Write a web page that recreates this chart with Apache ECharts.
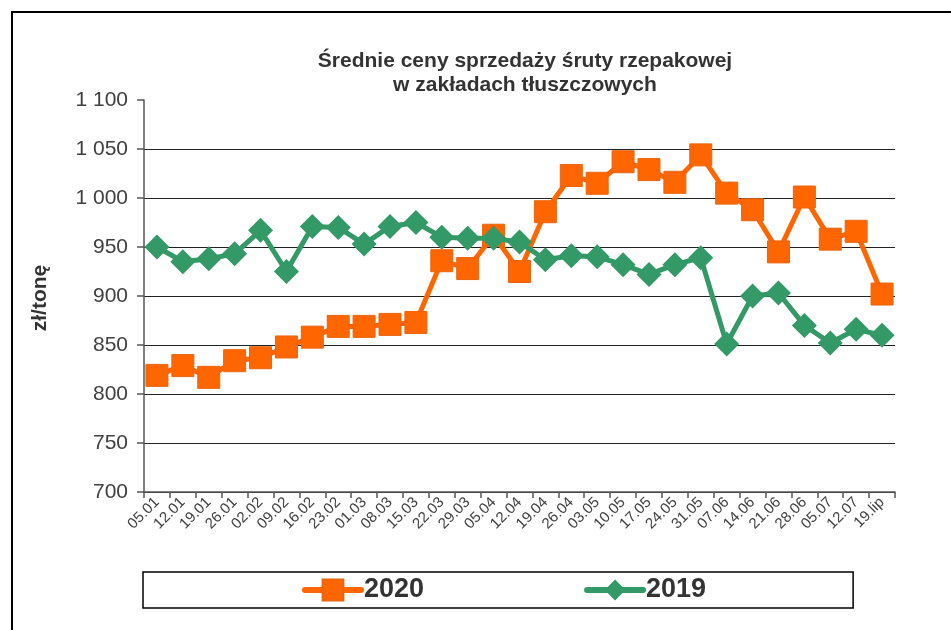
<!DOCTYPE html>
<html>
<head>
<meta charset="utf-8">
<script src="https://cdn.jsdelivr.net/npm/echarts@6/dist/echarts.min.js"></script>
<style>
html,body{margin:0;padding:0;background:#fff;}
#chart{width:951px;height:630px;}
</style>
</head>
<body>
<div id="chart"></div>
<script>
const categories = ['05.01','12.01','19.01','26.01','02.02','09.02','16.02','23.02','01.03','08.03','15.03','22.03','29.03','05.04','12.04','19.04','26.04','03.05','10.05','17.05','24.05','31.05','07.06','14.06','21.06','28.06','05.07','12.07','19.lip'];
const values2020 = [819, 829, 817, 834, 837, 848, 858, 869, 869, 871, 873, 936, 928, 962, 925, 986, 1023, 1015, 1037, 1029, 1016, 1044, 1005, 988, 945, 1001, 958, 966, 902];
const values2019 = [950, 935, 938, 943, 967, 925, 971, 970, 953, 971, 975, 960, 959, 959, 955, 937, 941, 940, 932, 922, 932, 939, 851, 900, 903, 870, 852, 866, 860];
const seriesNames = ['2020', '2019'];
const titleLines = ['Średnie ceny sprzedaży śruty rzepakowej', 'w zakładach tłuszczowych'];
const yAxisTitle = 'zł/tonę';
const yMin = 700, yMax = 1100, yStep = 50;

const FONT = "'Liberation Sans', Arial, sans-serif";
const chart = echarts.init(document.getElementById('chart'));
const fmt = v => String(v).replace(/\B(?=(\d{3})+(?!\d))/g, ' ');

chart.setOption({
  backgroundColor: '#fff',
  animation: false,
  textStyle: { fontFamily: FONT },
  title: {
    text: titleLines.join('\n'),
    left: 520,
    top: 44,
    textAlign: 'center',
    textStyle: { fontFamily: FONT, fontSize: 21, fontWeight: 'bold', color: '#333', lineHeight: 24 }
  },
  graphic: [
    { type: 'polyline', shape: { points: [[12, 632], [12, 12], [953, 12]] }, style: { stroke: '#000', lineWidth: 2, fill: null }, silent: true },
    { type: 'text', x: 40, y: 298, rotation: Math.PI / 2,
      style: { text: yAxisTitle, fontFamily: FONT, fontSize: 21, fontWeight: 'bold', fill: '#333', align: 'center', verticalAlign: 'middle' } }
  ],
  legend: {
    data: seriesNames,
    left: 143,
    top: 572,
    orient: 'horizontal',
    padding: [4, 147, 4, 159],
    itemGap: 160,
    itemWidth: 56,
    itemHeight: 26,
    borderColor: '#000',
    borderWidth: 1.5,
    lineStyle: { width: 6, cap: 'round' },
    textStyle: { fontFamily: FONT, fontSize: 27, fontWeight: 'bold', color: '#333', lineHeight: 28, padding: [0, 0, 0, -2] }
  },
  grid: { left: 144, right: 56, top: 100, bottom: 138, containLabel: false },
  xAxis: {
    type: 'category',
    data: categories,
    boundaryGap: true,
    axisLine: { show: true, lineStyle: { color: '#555', width: 1.5 } },
    axisTick: { show: true, interval: 0, length: 6, lineStyle: { color: '#555', width: 1.5 } },
    axisLabel: { interval: 0, rotate: 45, fontSize: 15, color: '#404040', margin: 8, fontFamily: FONT },
    splitLine: { show: false }
  },
  yAxis: {
    type: 'value',
    min: yMin,
    max: yMax,
    interval: yStep,
    axisLine: { show: true, lineStyle: { color: '#555', width: 1.5 } },
    axisTick: { show: true, length: 7, lineStyle: { color: '#555', width: 1.5 } },
    axisLabel: { fontSize: 21, color: '#404040', margin: 16, fontFamily: FONT, formatter: fmt },
    splitLine: { show: true, showMaxLine: false, lineStyle: { color: '#222', width: 1.2 } }
  },
  series: [
    {
      name: seriesNames[0],
      type: 'line',
      data: values2020,
      symbol: 'rect',
      symbolSize: 22,
      lineStyle: { color: '#FF6600', width: 5 },
      itemStyle: { color: '#FF6600', borderColor: '#E8650F', borderWidth: 1 },
      z: 2
    },
    {
      name: seriesNames[1],
      type: 'line',
      data: values2019,
      symbol: 'diamond',
      symbolSize: 25,
      lineStyle: { color: '#339966', width: 5 },
      itemStyle: { color: '#339966' },
      z: 3
    }
  ]
});
</script>
</body>
</html>
